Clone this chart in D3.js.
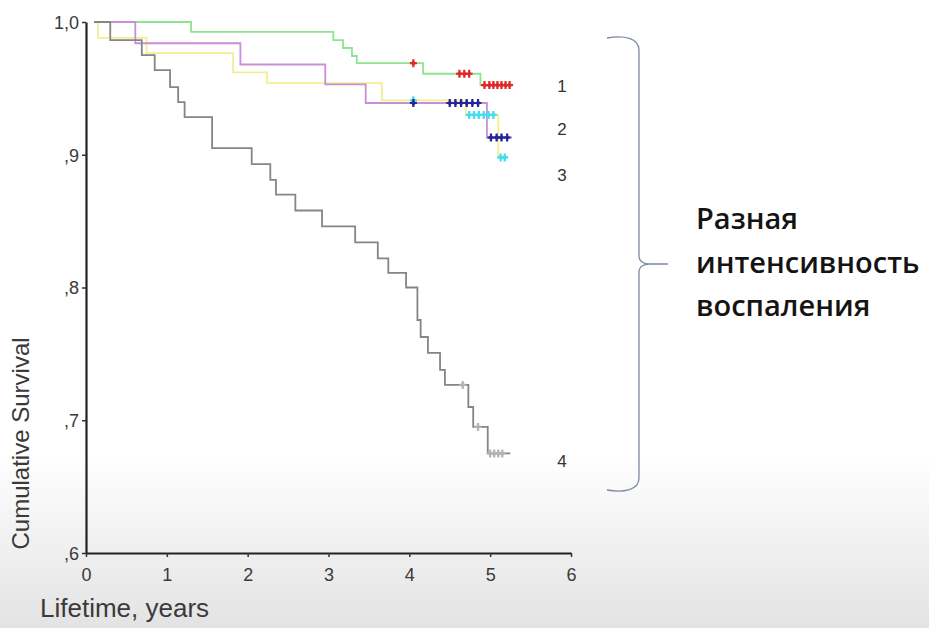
<!DOCTYPE html>
<html>
<head>
<meta charset="utf-8">
<script src="https://cdn.jsdelivr.net/npm/d3@7"></script>
<style>
  html, body { margin: 0; padding: 0; background: #fff; }
  svg { display: block; }
</style>
</head>
<body>
<svg id="chart" width="929" height="628"></svg>
<script>
// Kaplan–Meier survival by inflammation group (event times in years, survival after each step)
const groupNames = ["1", "2", "3", "4"];

const g1Time = [0.10, 1.30, 3.06, 3.18, 3.29, 3.35, 4.17, 4.88, 5.27];
const g1Surv = [1.000, 0.9925, 0.9864, 0.9804, 0.9744, 0.969, 0.961, 0.9525, 0.9525];
const g1Censored = [4.05, 4.62, 4.68, 4.74, 4.93, 4.99, 5.04, 5.09, 5.14, 5.19, 5.24];

const g2Time = [0.10, 0.61, 1.91, 2.96, 3.46, 4.96, 5.27];
const g2Surv = [1.000, 0.984, 0.968, 0.953, 0.939, 0.913, 0.913];
const g2Censored = [4.05, 4.50, 4.57, 4.64, 4.71, 4.78, 4.85, 5.01, 5.08, 5.14, 5.21];

const g3Time = [0.10, 0.15, 0.75, 1.82, 2.24, 3.66, 4.70, 5.10, 5.22];
const g3Surv = [1.000, 0.988, 0.9766, 0.962, 0.954, 0.941, 0.930, 0.898, 0.898];
const g3Censored = [4.05, 4.74, 4.80, 4.86, 4.92, 4.98, 5.04, 5.13, 5.18];

const g4Time = [0.10, 0.30, 0.69, 0.85, 1.04, 1.14, 1.22, 1.56, 2.05, 2.28, 2.35, 2.59, 2.92,
                3.33, 3.61, 3.74, 3.96, 4.10, 4.14, 4.23, 4.38, 4.44, 4.73, 4.79, 4.97, 5.25];
const g4Surv = [1.000, 0.9864, 0.9751, 0.9638, 0.951, 0.9397, 0.9284, 0.905, 0.893, 0.881, 0.870,
                0.858, 0.846, 0.834, 0.822, 0.811, 0.800, 0.7755, 0.7627, 0.7507, 0.7379, 0.7266,
                0.710, 0.695, 0.675, 0.675];
const g4Censored = [4.66, 4.85, 5.00, 5.05, 5.10, 5.15];

// Survival level at which each group number is printed
const groupLabelAt = [0.9515, 0.919, 0.885, 0.669];

const xTicks = [0, 1, 2, 3, 4, 5, 6];
const yTicks = [1.0, 0.9, 0.8, 0.7, 0.6];
const yTickLabels = ["1,0", ",9", ",8", ",7", ",6"];

const xTitle = "Lifetime, years";
const yTitle = "Cumulative Survival";
const noteLines = ["Разная", "интенсивность", "воспаления"];

const groups = [
  { name: groupNames[0], time: g1Time, surv: g1Surv, cens: g1Censored, line: "#8de68d", mark: "#e02a2a" },
  { name: groupNames[1], time: g2Time, surv: g2Surv, cens: g2Censored, line: "#c98fd6", mark: "#24249c" },
  { name: groupNames[2], time: g3Time, surv: g3Surv, cens: g3Censored, line: "#f3ee92", mark: "#48dcf0" },
  { name: groupNames[3], time: g4Time, surv: g4Surv, cens: g4Censored, line: "#858585", mark: "#b4b4b4" }
];

const W = 929, H = 628;
const svg = d3.select("#chart");

// soft grey fade along the bottom of the slide
const defs = svg.append("defs");
const grad = defs.append("linearGradient").attr("id", "bg").attr("x1", 0).attr("y1", 0).attr("x2", 0).attr("y2", 1);
grad.append("stop").attr("offset", "0%").attr("stop-color", "#ffffff");
grad.append("stop").attr("offset", "72%").attr("stop-color", "#ffffff");
grad.append("stop").attr("offset", "100%").attr("stop-color", "#e3e3e3");
svg.append("rect").attr("width", W).attr("height", H).attr("fill", "url(#bg)");

const x = d3.scaleLinear().domain([0, 6]).range([86, 571]);
const y = d3.scaleLinear().domain([0.6, 1.0]).range([553, 22]);

function survAt(g, t) {
  let s = g.surv[0];
  for (let i = 0; i < g.time.length; i++) if (g.time[i] <= t) s = g.surv[i];
  return s;
}

const line = d3.line().x(d => x(d[0])).y(d => y(d[1])).curve(d3.curveStepAfter);

// curves: yellow, green, purple, then grey on top
const drawOrder = [2, 0, 1, 3];
const curves = svg.append("g").attr("fill", "none");
drawOrder.forEach(k => {
  const g = groups[k];
  curves.append("path")
    .attr("d", line(g.time.map((t, i) => [t, g.surv[i]])))
    .attr("stroke", g.line)
    .attr("stroke-width", 1.8);
});

// censoring marks
const marks = svg.append("g").attr("fill", "none");
drawOrder.forEach(k => {
  const g = groups[k];
  g.cens.forEach(t => {
    const cx = x(t), cy = y(survAt(g, t));
    marks.append("path")
      .attr("d", `M${cx},${cy - 4}L${cx},${cy + 4}M${cx - 3.5},${cy}L${cx + 3.5},${cy}`)
      .attr("stroke", g.mark)
      .attr("stroke-width", 2.2);
    marks.append("path")
      .attr("d", `M${cx},${cy - 3}L${cx + 2.5},${cy}L${cx},${cy + 3}L${cx - 2.5},${cy}Z`)
      .attr("fill", g.mark);
  });
});

// axes
const tickFont = "'Liberation Sans', Arial, sans-serif";
const xAxis = svg.append("g").attr("transform", `translate(0,${y(0.6)})`)
  .call(d3.axisBottom(x).tickValues(xTicks).tickFormat(d3.format("d")).tickSize(4).tickSizeOuter(0).tickPadding(8));
const yAxis = svg.append("g").attr("transform", `translate(${x(0)},0)`)
  .call(d3.axisLeft(y).tickValues(yTicks).tickFormat((d, i) => yTickLabels[i]).tickSize(4).tickSizeOuter(0).tickPadding(3));

[xAxis, yAxis].forEach(a => {
  a.select(".domain").attr("stroke", "#222").attr("stroke-width", 2.2);
  a.selectAll(".tick line").attr("stroke", "#333").attr("stroke-width", 1.5);
  a.selectAll(".tick text").attr("fill", "#3a3a3a").style("font-family", tickFont).style("font-size", "18px");
});
xAxis.selectAll(".tick text").attr("dy", "0.9em");
yAxis.selectAll(".tick text").attr("dy", "0.35em");

svg.append("text")
  .attr("x", 40).attr("y", 617)
  .attr("fill", "#3a3a3a")
  .style("font-family", tickFont).style("font-size", "26px")
  .text(xTitle);

svg.append("text")
  .attr("transform", `translate(29,${(y(0.6) + y(0.765)) / 2}) rotate(-90)`)
  .attr("text-anchor", "middle")
  .attr("fill", "#3a3a3a")
  .style("font-family", tickFont).style("font-size", "24px")
  .text(yTitle);

// group numbers at the right end of the curves
svg.append("g").selectAll("text").data(groups).join("text")
  .attr("x", 562)
  .attr("y", (d, i) => y(groupLabelAt[i]))
  .attr("dy", "0.35em")
  .attr("text-anchor", "middle")
  .attr("fill", "#333")
  .style("font-family", tickFont).style("font-size", "17px")
  .text(d => d.name);

// curly brace spanning all four groups
const bx = 639, braceTop = 38, braceBot = 490, braceMid = 264;
svg.append("path")
  .attr("d", `M607,${braceTop} C624,${braceTop - 3} ${bx},${braceTop} ${bx},${braceTop + 12}
              L${bx},${braceMid - 8} C${bx},${braceMid - 2} ${bx + 6},${braceMid} ${bx + 10},${braceMid}
              L668,${braceMid}
              M${bx + 10},${braceMid} C${bx + 6},${braceMid} ${bx},${braceMid + 2} ${bx},${braceMid + 8}
              L${bx},${braceBot - 12} C${bx},${braceBot} 624,${braceBot + 3} 607,${braceBot}`)
  .attr("fill", "none")
  .attr("stroke", "#7d8aa3")
  .attr("stroke-width", 1.3);

svg.append("g").selectAll("text").data(noteLines).join("text")
  .attr("x", 696)
  .attr("y", (d, i) => 229 + i * 43.5)
  .attr("fill", "#141414")
  .style("font-family", "'Open Sans', sans-serif")
  .style("font-weight", 600)
  .style("font-size", "29px")
  .text(d => d);
</script>
</body>
</html>
